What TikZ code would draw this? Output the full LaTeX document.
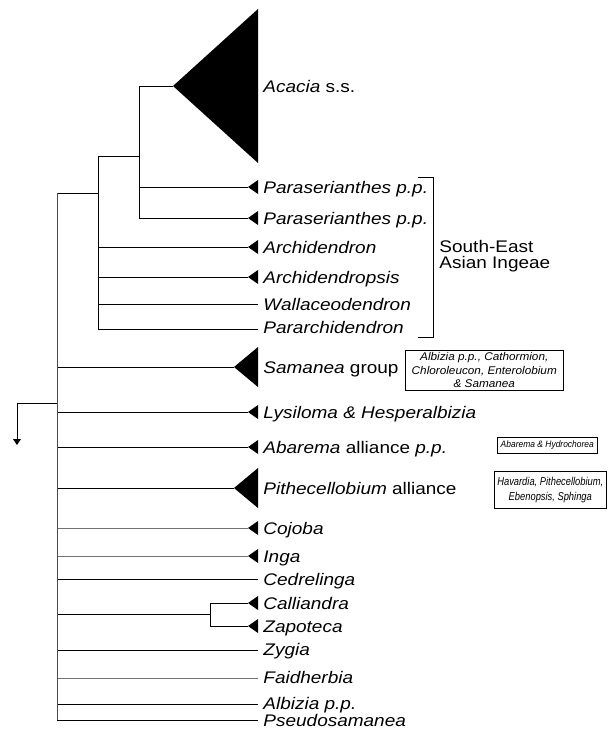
\documentclass[tikz,border=0pt]{standalone}
\usepackage{fontspec}
\setmainfont{Liberation Sans}[FakeStretch=1.13]
\newfontfamily\boxfontS{Liberation Sans}[FakeStretch=1.05]
\newfontfamily\boxfontA{Liberation Sans}[FakeStretch=0.91]
\newfontfamily\boxfontP{Liberation Sans}[FakeStretch=0.82]
\begin{document}
\begin{tikzpicture}[x=1pt,y=-1pt,line width=0.9pt,
  lab/.style={anchor=base west,inner sep=0pt,font=\fontsize{16.8}{18}\selectfont},
  boxlab/.style={draw,line width=0.6pt,inner sep=1pt,align=center,anchor=west},
  thinline/.style={line width=0.6pt,draw=black!55},
  backbone/.style={line width=0.8pt,draw=black!70},
  smalltri/.pic={\fill[black] (-10,0) -- (0,-7) -- (0,7) -- cycle;},
  bigtri/.pic={\fill[black] (-24,0) -- (0,-20) -- (0,20) -- cycle;}]
\useasboundingbox (0,0) rectangle (608,737);

% internal nodes
\coordinate (n2) at (139,156);
\coordinate (n1) at (98,193);
\coordinate (bb) at (57,403);
\coordinate (cz) at (210,614);
\coordinate (rootend) at (17,440);

% tips
\coordinate (aca) at (173,86);
\coordinate (par1) at (248,187);
\coordinate (par2) at (248,218);
\coordinate (arch) at (248,247);
\coordinate (archp) at (248,277);
\coordinate (wall) at (258,304);
\coordinate (parar) at (258,329);
\coordinate (sam) at (234,367);
\coordinate (lys) at (248,412);
\coordinate (aba) at (248,447);
\coordinate (pith) at (234,488);
\coordinate (coj) at (248,528);
\coordinate (inga) at (248,556);
\coordinate (ced) at (258,579);
\coordinate (call) at (248,603);
\coordinate (zapo) at (248,626);
\coordinate (zyg) at (258,650);
\coordinate (faid) at (258,678);
\coordinate (albi) at (258,704);
\coordinate (pseu) at (258,720);

% Acacia triangle
\fill[black] (aca) -- (258,9) -- (258,163) -- cycle;
\pic at (258,187) {smalltri};
\pic at (258,218) {smalltri};
\pic at (258,247) {smalltri};
\pic at (258,277) {smalltri};
\pic at (258,367) {bigtri};
\pic at (258,412) {smalltri};
\pic at (258,447) {smalltri};
\pic at (258,488) {bigtri};
\pic at (258,528) {smalltri};
\pic at (258,556) {smalltri};
\pic at (258,603) {smalltri};
\pic at (258,626) {smalltri};

% clade Acacia + Paraserianthes
\draw (aca) -| (n2);
\draw (n2) |- (par1);
\draw (n2) |- (par2);
\draw (n2) -| (n1);
\draw (n1) |- (arch);
\draw (n1) |- (archp);
\draw (n1) |- (wall);
\draw (n1) |- (parar);
\draw (n1) -- (bb |- n1);

% branches from backbone
\draw (bb |- sam) -- (sam);
\draw (bb |- lys) -- (lys);
\draw (bb |- aba) -- (aba);
\draw (bb |- pith) -- (pith);
\draw[thinline] (bb |- coj) -- (coj);
\draw[thinline] (bb |- inga) -- (inga);
\draw (bb |- ced) -- (ced);
\draw (bb |- cz) -- (cz);
\draw (cz) |- (call);
\draw (cz) |- (zapo);
\draw (bb |- zyg) -- (zyg);
\draw[thinline] (bb |- faid) -- (faid);
\draw (bb |- albi) -- (albi);
\draw (bb |- pseu) -- (pseu);
\draw[backbone] (bb |- n1) -- (bb |- pseu);

% root
\draw (bb) -| (rootend);
\fill[black] (13,439) -- (21,439) -- (17,445) -- cycle;

% labels
\node[lab] (Lacacia) at (263,92) {\textit{Acacia} s.s.};
\node[lab] (Lpar1) at (263,193) {\textit{Paraserianthes p.p.}};
\node[lab] (Lpar2) at (263,224) {\textit{Paraserianthes p.p.}};
\node[lab] (Larch) at (263,253) {\textit{Archidendron}};
\node[lab] (Larchp) at (263,283) {\textit{Archidendropsis}};
\node[lab] (Lwall) at (263,310) {\textit{Wallaceodendron}};
\node[lab] (Lparar) at (263,333) {\textit{Pararchidendron}};
\node[lab] (Lsam) at (263,373) {\textit{Samanea} group};
\node[lab] (Llys) at (263,418) {\textit{Lysiloma \& Hesperalbizia}};
\node[lab] (Laba) at (263,453) {\textit{Abarema} alliance \textit{p.p.}};
\node[lab] (Lpith) at (263,494) {\textit{Pithecellobium} alliance};
\node[lab] (Lcoj) at (263,534) {\textit{Cojoba}};
\node[lab] (Linga) at (263,562) {\textit{Inga}};
\node[lab] (Lced) at (263,585) {\textit{Cedrelinga}};
\node[lab] (Lcall) at (263,609) {\textit{Calliandra}};
\node[lab] (Lzapo) at (263,632) {\textit{Zapoteca}};
\node[lab] (Lzyg) at (263,655) {\textit{Zygia}};
\node[lab] (Lfaid) at (263,683) {\textit{Faidherbia}};
\node[lab] (Lalbi) at (263,709) {\textit{Albizia p.p.}};
\node[lab] (Lpseu) at (263,726) {\textit{Pseudosamanea}};

% bracket
\coordinate (brt) at (418,177);
\coordinate (brb) at (418,337);
\draw (brt) -- ++(15,0) |- (brb);
\node[anchor=west,inner sep=0pt,align=left,font=\fontsize{16.8}{16}\selectfont] (SEA) at (439,256) {South-East\\Asian Ingeae};

% boxes
\node[boxlab,minimum width=158pt,minimum height=40pt,
      font=\boxfontS\fontsize{11.2}{13.5}\selectfont\itshape] (Bsam) at (405,370)
  {Albizia p.p., Cathormion,\\Chloroleucon, Enterolobium\\\& Samanea};
\node[boxlab,minimum width=100pt,minimum height=16pt,
      font=\boxfontA\fontsize{9.3}{10}\selectfont\itshape] (Baba) at (497,445)
  {Abarema \& Hydrochorea};
\node[boxlab,minimum width=112pt,minimum height=37pt,
      font=\boxfontP\fontsize{11.4}{15}\selectfont\itshape] (Bpith) at (494,490)
  {Havardia, Pithecellobium,\\Ebenopsis, Sphinga};
\end{tikzpicture}
\end{document}
